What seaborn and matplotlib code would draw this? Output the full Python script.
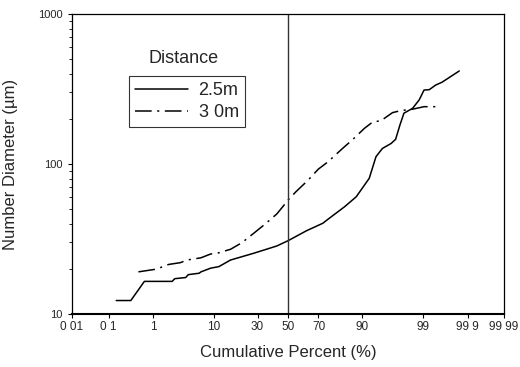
from statistics import NormalDist
import pandas as pd
import seaborn as sns
import matplotlib
matplotlib.use('Agg')
import matplotlib.pyplot as plt
from matplotlib.lines import Line2D
from matplotlib.ticker import LogLocator, NullFormatter

# cumulative percent / number diameter (um)
pct_25 = [0.155, 0.34, 0.67, 2.3, 2.56, 3.9, 4.3, 6.3, 6.7, 9.1, 11.7, 16.1, 27.7,
          42.3, 50, 62.5, 72.6, 75.4, 83.5, 88, 91.9, 93.5, 94.8, 96.2, 96.8,
          97.3, 97.7, 98.4, 98.8, 99.04, 99.25, 99.45, 99.6, 99.84]
dia_25 = [12.3, 12.3, 16.5, 16.5, 17.2, 17.5, 18.3, 18.7, 19.1, 20.2, 20.7, 22.9, 25.4,
          28.4, 30.8, 35.9, 40.3, 42.8, 51.9, 60.5, 80.3, 111.8, 127, 137, 146,
          182, 218, 235, 267, 311, 313, 336, 351, 417]

pct_30 = [0.5, 1.16, 2.0, 3.2, 4.1, 6.7, 9.1, 11.1, 16.1, 21.4, 27.7, 34.7, 42.3,
          46.8, 50, 55.4, 63.6, 69.8, 75.5, 82.1, 86.8, 90.6, 92.8, 94.5, 96.4,
          97.4, 98.4, 99.04, 99.49]
dia_30 = [19.1, 19.9, 21.4, 22.0, 22.9, 23.7, 25.1, 25.4, 27.0, 29.9, 34.5, 39.8, 46.4,
          52.5, 57.5, 65.3, 78.2, 92.2, 103.6, 125, 146, 173, 191, 194, 220,
          227, 232, 241, 241]

tick_pct = [0.01, 0.1, 1, 10, 30, 50, 70, 90, 99, 99.9, 99.99]
tick_labels = ['0 01', '0 1', '1', '10', '30', '50', '70', '90', '99', '99 9', '99 99']
series_labels = ['2.5m', '3 0m']

nd = NormalDist()


def probit(p):
    return [nd.inv_cdf(v / 100) for v in p]


df = pd.concat([
    pd.DataFrame({'z': probit(pct_25), 'dia': dia_25, 'dist': series_labels[0]}),
    pd.DataFrame({'z': probit(pct_30), 'dia': dia_30, 'dist': series_labels[1]}),
])

sns.set_style('ticks')
plt.rcParams['font.family'] = ['Liberation Sans', 'DejaVu Sans']
plt.rcParams['lines.scale_dashes'] = False

dd = (12, 4, 1.5, 4)

fig = plt.figure(figsize=(5.2, 3.67), dpi=100)
ax = fig.add_axes([0.1385, 0.1444, 0.8308, 0.8175])

sns.lineplot(data=df, x='z', y='dia', style='dist', color='black',
             dashes={series_labels[0]: '', series_labels[1]: dd},
             estimator=None, sort=False, lw=1.1, legend=False, ax=ax)

ax.axvline(0, color='#333333', lw=1)

ax.set_yscale('log')
ax.set_ylim(10, 1000)
lo, hi = probit([0.01, 99.99])
ax.set_xlim(lo, hi)

ax.set_xticks(probit(tick_pct))
ax.set_xticklabels(tick_labels)
ax.set_yticks([10, 100, 1000])
ax.set_yticklabels(['10', '100', '1000'])
ax.yaxis.set_minor_locator(LogLocator(base=10, subs=range(2, 10)))
ax.yaxis.set_minor_formatter(NullFormatter())
ax.tick_params(axis='both', which='major', labelsize=8.5, length=3, width=0.8,
               color='black', pad=2)
ax.tick_params(axis='y', which='major', pad=4, labelsize=8)
ax.tick_params(axis='y', which='minor', length=2, width=0.7)

for s in ax.spines.values():
    s.set_visible(True)
    s.set_color('black')
    s.set_linewidth(0.9)
ax.spines['bottom'].set_linewidth(1.5)

ax.set_xlabel('Cumulative Percent (%)', fontsize=12, labelpad=9)
ax.set_ylabel('Number Diameter (\u00b5m)', fontsize=12)
ax.yaxis.set_label_coords(-0.125, 0.5)

handles = [Line2D([], [], color='black', lw=1.1),
           Line2D([], [], color='black', lw=1.1, dashes=dd)]
leg = ax.legend(handles, series_labels, loc='upper left',
                bbox_to_anchor=(0.132, 0.793), borderaxespad=0,
                frameon=True, fancybox=False, fontsize=13, handlelength=2.9,
                handletextpad=0.6, labelspacing=0.25, borderpad=0.35)
leg.get_frame().set_edgecolor('black')
leg.get_frame().set_linewidth(0.8)
ax.text(0.259, 0.853, 'Distance', transform=ax.transAxes, ha='center',
        va='center', fontsize=13)

fig.savefig('out.png', dpi=100)
